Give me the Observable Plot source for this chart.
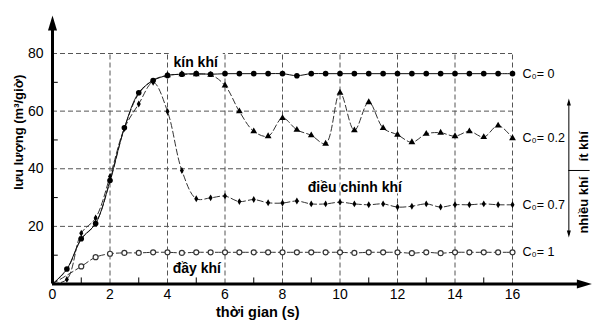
<!DOCTYPE html>
<html><head><meta charset="utf-8">
<script src="https://cdn.jsdelivr.net/npm/d3@7"></script>
<script src="https://cdn.jsdelivr.net/npm/@observablehq/plot@0.6"></script>
<style>body{margin:0;background:#fff}</style>
</head><body><div id="chart"></div>
<script>
// ---- data ----
const times = [0,0.5,1,1.5,2,2.5,3,3.5,4,4.5,5,5.5,6,6.5,7,7.5,8,8.5,9,9.5,10,10.5,11,11.5,12,12.5,13,13.5,14,14.5,15,15.5,16];
const c0_0  = [0,5.2,15.7,21,35.9,54.2,66.4,70.6,72.4,72.8,73,72.8,73,73,73,73,73,72.3,73,73,73,73,73,73,73,73,73,73,73,73,73,73,73];
const c0_02 = [0,5,15.5,21,35.5,54,66,70.8,72.4,72.8,72.8,72.6,68.9,59.9,53,51.3,57.6,53.5,51.6,48.7,66.4,53.3,63.1,54.1,51.8,49.2,52.1,52.5,51.3,53,51,55,50.6];
const c0_07 = [0,1.6,17.6,22.9,37.3,54,62.5,70,59.9,39.4,29.6,29.9,30.5,28.6,29.3,28.2,28.1,28.8,27.8,27.8,28.4,27.8,27.5,27.8,26.7,27,27.8,26.7,27.5,27.5,27.8,27.5,27.5];
const c0_1  = [0,null,6.1,9.3,10.5,10.8,10.8,11,11,10.8,11,11,11,11,11,11,11,11,11,11,11,10.8,11,11,11,10.7,11,10.7,11,11,11,11,11];
const seriesLabels = ["C\u2080= 0","C\u2080= 0.2","C\u2080= 0.7","C\u2080= 1"];
const xTicks = [0,2,4,6,8,10,12,14,16];
const xMinor = [1,3,5,7,9,11,13,15];
const yTicks = [20,40,60,80];
const yMinor = [10,30,50,70];
const curveNotes = ["kín khí","điều chỉnh khí","đầy khí"];
const sideNotes = ["ít khí","nhiều khí"];
const xTitle = "thời gian (s)";
const yTitle = "lưu lượng (m³/giờ)";

const rows = (vals) => times.map((t,i)=>({t, v: vals[i]})).filter(d => d.v != null);
const s0 = rows(c0_0), s02 = rows(c0_02), s07 = rows(c0_07), s1 = rows(c0_1);

const font = "Liberation Sans, Arial, Helvetica, sans-serif";
// narrow filled arrowhead symbols, tip at the point, pointing up
const headBig = {draw(ctx){ ctx.moveTo(0,0); ctx.lineTo(-4.5,15); ctx.lineTo(4.5,15); ctx.closePath(); }};
const headSmall = {draw(ctx){ ctx.moveTo(0,0); ctx.lineTo(-2,7); ctx.lineTo(2,7); ctx.closePath(); }};

const dash = "6,3";
const chart = Plot.plot({
  width: 592, height: 323,
  marginLeft: 52, marginRight: 80, marginTop: 53, marginBottom: 39.5,
  x: {domain: [0,16]},
  y: {domain: [0,80]},
  style: {fontFamily: font, fontSize: "14px", background: "#fff"},
  marks: [
    Plot.ruleX(xTicks.slice(1), {y1: 0, y2: 80, stroke: "#555", strokeDasharray: "5,3", strokeWidth: 1}),
    Plot.ruleY(yTicks, {x1: 0, x2: 16, stroke: "#555", strokeDasharray: "5,3", strokeWidth: 1}),
    Plot.ruleX(xMinor, {y1: 0, y2: 2.1, stroke: "#000", strokeWidth: 1}),
    Plot.ruleY(yMinor, {x1: 0, x2: 0.2, stroke: "#000", strokeWidth: 1}),
    // curves
    Plot.line(s1, {x: "t", y: "v", curve: "catmull-rom", stroke: "#333", strokeWidth: 1, strokeDasharray: dash}),
    Plot.line(s07, {x: "t", y: "v", curve: "catmull-rom", stroke: "#333", strokeWidth: 1, strokeDasharray: dash}),
    Plot.line(s02, {x: "t", y: "v", curve: "catmull-rom", stroke: "#333", strokeWidth: 1, strokeDasharray: dash}),
    Plot.line(s0, {x: "t", y: "v", curve: "catmull-rom", stroke: "#111", strokeWidth: 1}),
    Plot.dot(s1.filter(d=>d.t>0), {x: "t", y: "v", r: 2.5, stroke: "#333", strokeWidth: 1.2, fill: "#fff"}),
    Plot.dot(s07.filter(d=>d.t>0), {x: "t", y: "v", r: 2.1, symbol: "diamond", fill: "#000"}),
    Plot.dot(s02.filter(d=>d.t>=4), {x: "t", y: "v", r: 2.5, symbol: "triangle", fill: "#000"}),
    Plot.dot(s0.filter(d=>d.t>0), {x: "t", y: "v", r: 2.8, fill: "#000"}),
    // axes
    Plot.ruleY([0], {x1: 0, x2: 18.3, stroke: "#000", strokeWidth: 3}),
    Plot.ruleX([0], {y1: 0, y2: 89, stroke: "#000", strokeWidth: 3}),
    Plot.dot([{x: 0, y: 93.2}], {x: "x", y: "y", symbol: headBig, fill: "#000", stroke: "none"}),
    Plot.dot([{x: 18.76, y: 0}], {x: "x", y: "y", symbol: headBig, rotate: 90, fill: "#000", stroke: "none"}),
    Plot.axisX(xTicks, {tickSize: 0, tickPadding: 5, fontSize: 14, label: null}),
    Plot.axisY(yTicks, {tickSize: 0, tickPadding: 9, fontSize: 14, label: null}),
    Plot.text([xTitle], {x: 7.14, y: -9.9, fontSize: 14.5, fontWeight: "bold", fill: "#000"}),
    Plot.text([yTitle], {x: -1.17, y: 52.6, rotate: -90, fontSize: 13, fontWeight: "bold", fill: "#000"}),
    // curve annotations
    Plot.rect([0], {x1: 4.06, x2: 5.94, y1: 74.6, y2: 81.2, fill: "#fff"}),
    Plot.text([curveNotes[0]], {x: 4.98, y: 76.8, fontSize: 14, fontWeight: "bold", fill: "#000"}),
    Plot.text([curveNotes[1]], {x: 8.88, y: 33.5, textAnchor: "start", fontSize: 14, fontWeight: "bold", fill: "#000", stroke: "#fff", strokeWidth: 3, paintOrder: "stroke"}),
    Plot.text([curveNotes[2]], {x: 4.18, y: 5.3, textAnchor: "start", fontSize: 14, fontWeight: "bold", fill: "#000", stroke: "#fff", strokeWidth: 3, paintOrder: "stroke"}),
    // series labels
    Plot.text([s0, s02, s07, s1].map((s,i)=>({y: s[s.length-1].v, label: seriesLabels[i]})),
      {x: 16, y: "y", text: "label", dx: 10, textAnchor: "start", fontSize: 12.5, fill: "#000"}),
    // side arrow
    Plot.ruleX([17.96], {y1: 17, y2: 63, stroke: "#000", strokeWidth: 1}),
    Plot.dot([{x: 17.96, y: 64.4}], {x: "x", y: "y", symbol: headSmall, fill: "#000", stroke: "none"}),
    Plot.dot([{x: 17.96, y: 16.1}], {x: "x", y: "y", symbol: headSmall, rotate: 180, fill: "#000", stroke: "none"}),
    Plot.ruleY([39.4], {x1: 17.96, x2: 18.7, stroke: "#000", strokeWidth: 1}),
    Plot.text([sideNotes[0]], {x: 18.47, y: 47.8, rotate: -90, fontSize: 13, fontWeight: "bold", fill: "#000"}),
    Plot.text([sideNotes[1]], {x: 18.47, y: 27.4, rotate: -90, fontSize: 13, fontWeight: "bold", fill: "#000"})
  ]
});
document.getElementById("chart").appendChild(chart);
</script>
</body></html>
